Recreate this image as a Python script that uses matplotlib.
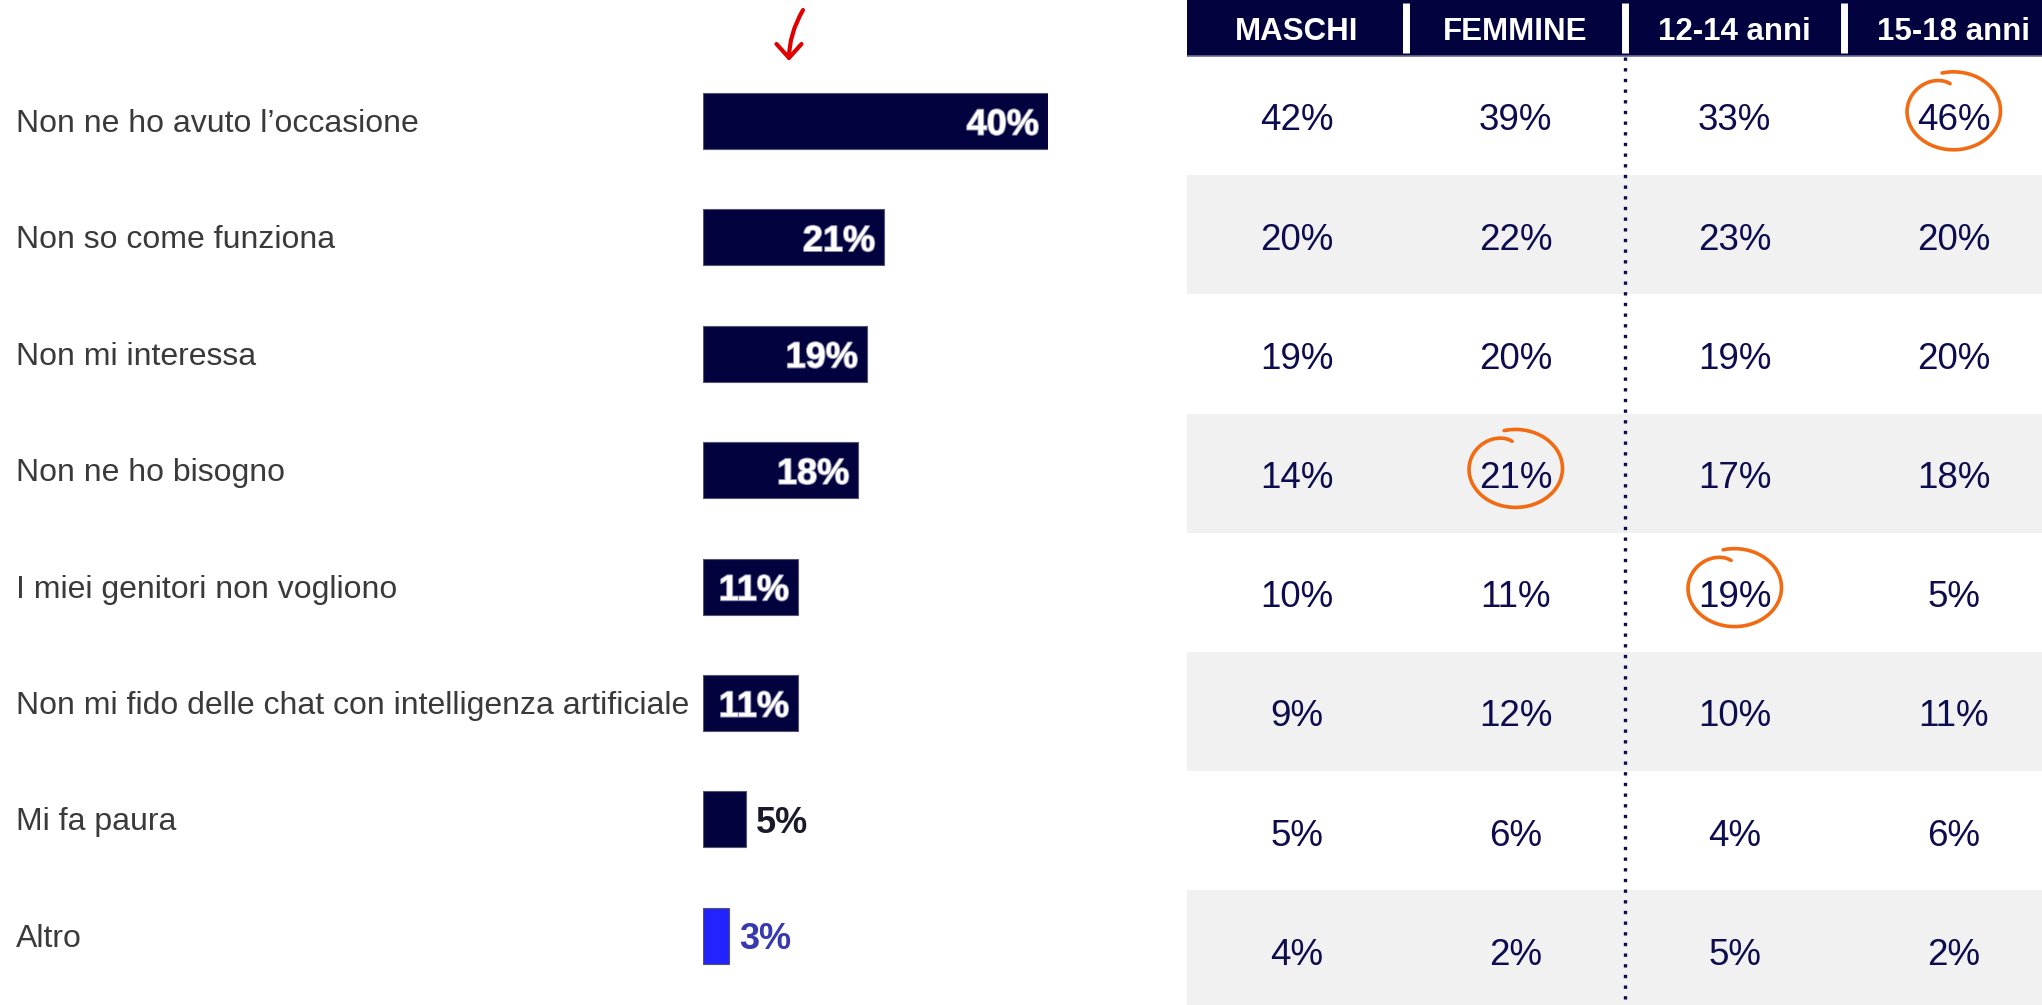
import numpy as np
import matplotlib
matplotlib.use("Agg")
import matplotlib.pyplot as plt
import matplotlib.patheffects as pe
from matplotlib.transforms import blended_transform_factory

# ---------------- data ----------------
categories = [
    "Non ne ho avuto l\u2019occasione",
    "Non so come funziona",
    "Non mi interessa",
    "Non ne ho bisogno",
    "I miei genitori non vogliono",
    "Non mi fido delle chat con intelligenza artificiale",
    "Mi fa paura",
    "Altro",
]
totale = [40, 21, 19, 18, 11, 11, 5, 3]

col_headers = ["MASCHI", "FEMMINE", "12-14 anni", "15-18 anni"]
maschi = [42, 20, 19, 14, 10, 9, 5, 4]
femmine = [39, 22, 20, 21, 11, 12, 6, 2]
eta_12_14 = [33, 23, 19, 17, 19, 10, 4, 5]
eta_15_18 = [46, 20, 20, 18, 5, 11, 6, 2]
highlights = [(3, 0), (1, 3), (2, 4)]  # (column, row) circled

# ---------------- style ----------------
NAVY = "#02023f"
TEXT_NAVY = "#0c0c4e"
BLUE = "#2323ff"
GREY_ROW = "#f1f1f1"
LABEL_GREY = "#3a3a3a"
ORANGE = "#f26a12"
FONT = ["Liberation Sans", "DejaVu Sans"]
plt.rcParams["font.family"] = FONT

W, H = 2042, 1005
fig = plt.figure(figsize=(W / 100, H / 100), dpi=100)
fig.patch.set_facecolor("white")

# ---------------- bar chart ----------------
row_h = 116.4
top0 = 121 - row_h / 2
ax = fig.add_axes([703 / W, 1 - (top0 + 8 * row_h) / H, 345 / W, 8 * row_h / H])
ax.set_xlim(0, 40)
ax.set_ylim(7.5, -0.5)
ax.axis("off")

ypos = np.arange(len(categories))
colors = [NAVY] * (len(categories) - 1) + [BLUE]
ax.barh(ypos, totale, height=0.48, color=colors, edgecolor="#55556a", linewidth=0.8)

px_per_unit = 345 / 40
lab_tr = blended_transform_factory(fig.transFigure, ax.transData)
for i, (cat, v) in enumerate(zip(categories, totale)):
    ax.text(16 / W, i + 0.025, cat, transform=lab_tr,
            ha="left", va="center", fontsize=23, color=LABEL_GREY, clip_on=False)
    if v >= 10:
        ax.text(v - 9 / px_per_unit, i + 0.035, f"{v}%", ha="right", va="center", fontsize=26,
                fontweight="bold", color="white",
                path_effects=[pe.withStroke(linewidth=1.5, foreground="#8888aa")])
    else:
        c = "#1a1a2a" if i < len(categories) - 1 else "#3838b0"
        ax.text(v + 10 / px_per_unit, i + 0.035, f"{v}%", ha="left", va="center", fontsize=26,
                fontweight="bold", color=c, clip_on=False)

# ---------------- table ----------------
trow = 119.2
hdr_px = 56
hdr_h = hdr_px / trow
tab_h = hdr_px + 8 * trow
axt = fig.add_axes([1187 / W, (H - tab_h) / H, 876 / W, tab_h / H])
axt.set_xlim(0, 4)
axt.set_ylim(8, -hdr_h)
axt.axis("off")

axt.add_patch(plt.Rectangle((0, -hdr_h), 4, hdr_h, color=NAVY, lw=0))
axt.plot([0, 4], [0, 0], color="#6a6a9a", lw=1.2)
for r in range(8):
    if r % 2 == 1:
        axt.add_patch(plt.Rectangle((0, r), 4, 1, color=GREY_ROW, lw=0))
for c in (1, 2, 3):
    axt.plot([c, c], [-hdr_h + 3 / trow, -3 / trow], color="white", lw=5, solid_capstyle="butt")
axt.plot([2, 2], [0.01, 8], color=TEXT_NAVY, lw=2.4, linestyle=(0, (1, 2.2)))

for c, h in enumerate(col_headers):
    axt.text(c + 0.5, -hdr_h / 2 + 0.03, h, ha="center", va="center", fontsize=22.5,
             fontweight="bold", color="white")

cols = [maschi, femmine, eta_12_14, eta_15_18]
for c, vals in enumerate(cols):
    for r, v in enumerate(vals):
        axt.text(c + 0.5, r + 0.545, f"{v}%", ha="center", va="center", fontsize=26.5,
                 color=TEXT_NAVY)

# hand-drawn circles (open spiral loops)
for c, r in highlights:
    cx, cy = c + 0.5, r + 0.46
    rx, ry = 47 / 219, 39 / trow
    t0 = np.deg2rad(96)
    t = np.linspace(t0, t0 + np.deg2rad(368), 300)
    s = 1.0 - 0.3 * np.exp(-(t - t0) / 0.45)
    axt.plot(cx + rx * s * np.cos(t), cy - ry * s * np.sin(t), color=ORANGE, lw=2.6,
             solid_capstyle="round")

# ---------------- red arrow ----------------
axo = fig.add_axes([0, 0, 1, 1], facecolor="none")
axo.set_xlim(0, W)
axo.set_ylim(H, 0)
axo.axis("off")
axo.annotate("", xy=(789, 61), xytext=(803, 10),
             arrowprops=dict(arrowstyle="->,head_length=1.0,head_width=0.9", color="#e00000",
                             lw=3, shrinkA=0, shrinkB=0,
                             connectionstyle="angle3,angleA=60,angleB=90"))

fig.savefig("out.png", dpi=100, facecolor="white")
